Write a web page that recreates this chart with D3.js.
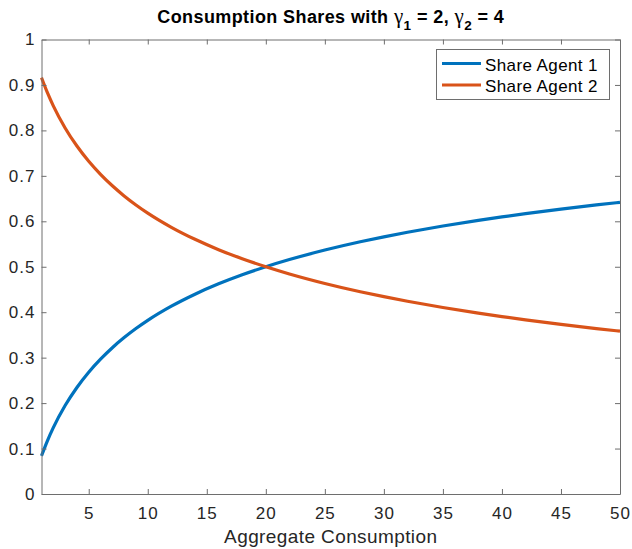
<!DOCTYPE html>
<html><head><meta charset="utf-8">
<script src="https://cdn.jsdelivr.net/npm/d3@7"></script>
<style>body{margin:0;background:#fff;} text{font-family:"Liberation Sans",Arial,Helvetica,sans-serif;}</style>
</head><body><svg id="c" width="632" height="549"></svg>
<script>
const consumption = [1, 1.5, 2, 3, 4, 5, 6, 7, 8, 9, 10, 12, 14, 16, 18, 20, 22, 25, 28, 30, 32, 35, 38, 40, 42, 45, 48, 50];
const shareAgent1 = [0.0839, 0.1170, 0.1459, 0.1946, 0.2344, 0.2680, 0.2967, 0.3219, 0.3441, 0.3640, 0.3820, 0.4132, 0.4396, 0.4624, 0.4824, 0.5000, 0.5158, 0.5367, 0.5549, 0.5658, 0.5758, 0.5896, 0.6020, 0.6096, 0.6168, 0.6268, 0.6360, 0.6418];
const shareAgent2 = [0.9161, 0.8830, 0.8541, 0.8054, 0.7656, 0.7320, 0.7033, 0.6781, 0.6559, 0.6360, 0.6180, 0.5868, 0.5604, 0.5376, 0.5176, 0.5000, 0.4842, 0.4633, 0.4451, 0.4342, 0.4242, 0.4104, 0.3980, 0.3904, 0.3832, 0.3732, 0.3640, 0.3582];
const xTicks = [5, 10, 15, 20, 25, 30, 35, 40, 45, 50];
const yTicks = [0, 0.1, 0.2, 0.3, 0.4, 0.5, 0.6, 0.7, 0.8, 0.9, 1];
const seriesNames = ["Share Agent 1", "Share Agent 2"];
const colors = ["#0072BD", "#D95319"];

const svg = d3.select("#c");
const L = 41.5, R = 620, T = 39.5, B = 494;
const x = d3.scaleLinear().domain([1, 50]).range([L, R]);
const y = d3.scaleLinear().domain([0, 1]).range([B, T]);
const axisCol = "#6e6e6e", textCol = "#262626";

const line = d3.line().x(d => x(d[0])).y(d => y(d[1])).curve(d3.curveMonotoneX);
[shareAgent1, shareAgent2].forEach((s, i) => {
  svg.append("path").datum(consumption.map((c, j) => [c, s[j]]))
    .attr("d", line).attr("fill", "none").attr("stroke", colors[i]).attr("stroke-width", 3.2);
});

function style(g) {
  g.select(".domain").attr("stroke", axisCol);
  g.selectAll(".tick line").attr("stroke", axisCol);
  g.selectAll(".tick text").attr("fill", textCol).style("font-size", "17px").style("letter-spacing", "1px");
}
svg.append("g").attr("transform", `translate(0,${B})`)
  .call(d3.axisBottom(x).tickValues(xTicks).tickSizeInner(-5).tickSizeOuter(0).tickPadding(13).tickFormat(d3.format("d")))
  .call(style);
svg.append("g").attr("transform", `translate(0,${T})`)
  .call(d3.axisTop(x).tickValues(xTicks).tickSizeInner(-5).tickSizeOuter(0).tickFormat(""))
  .call(style);
svg.append("g").attr("transform", `translate(${L},0)`)
  .call(d3.axisLeft(y).tickValues(yTicks).tickSizeInner(-5).tickSizeOuter(0).tickPadding(6).tickFormat(d => d3.format("")(d)))
  .call(style);
svg.append("g").attr("transform", `translate(${R},0)`)
  .call(d3.axisRight(y).tickValues(yTicks).tickSizeInner(-5).tickSizeOuter(0).tickFormat(""))
  .call(style);

// x label
svg.append("text").attr("x", (L + R) / 2).attr("y", 543).attr("text-anchor", "middle")
  .attr("fill", textCol).style("font-size", "19px").style("letter-spacing", "0.4px").text("Aggregate Consumption");

// title
const t = svg.append("text").attr("x", (L + R) / 2).attr("y", 23).attr("text-anchor", "middle")
  .attr("fill", "#000").style("font-size", "18px").style("font-weight", "bold").style("letter-spacing", "0.4px");
t.append("tspan").text("Consumption Shares with ");
t.append("tspan").style("font-family", "'Liberation Serif',serif").style("font-weight", "normal").style("font-size", "21px").text("γ");
t.append("tspan").attr("dy", 7).style("font-size", "13.5px").text("1");
t.append("tspan").attr("dy", -7).text(" = 2, ");
t.append("tspan").style("font-family", "'Liberation Serif',serif").style("font-weight", "normal").style("font-size", "21px").text("γ");
t.append("tspan").attr("dy", 7).style("font-size", "13.5px").text("2");
t.append("tspan").attr("dy", -7).text(" = 4");

// legend
const lg = svg.append("g");
lg.append("rect").attr("x", 436.5).attr("y", 49.5).attr("width", 173).attr("height", 50)
  .attr("fill", "#fff").attr("stroke", axisCol).attr("stroke-width", 1);
seriesNames.forEach((n, i) => {
  const yy = 63.5 + i * 21.5;
  lg.append("line").attr("x1", 442).attr("x2", 481).attr("y1", yy).attr("y2", yy)
    .attr("stroke", colors[i]).attr("stroke-width", 3.2);
  lg.append("text").attr("x", 485).attr("y", yy + 7).attr("fill", "#000")
    .style("font-size", "17px").style("letter-spacing", "0.4px").text(n);
});
</script></body></html>
